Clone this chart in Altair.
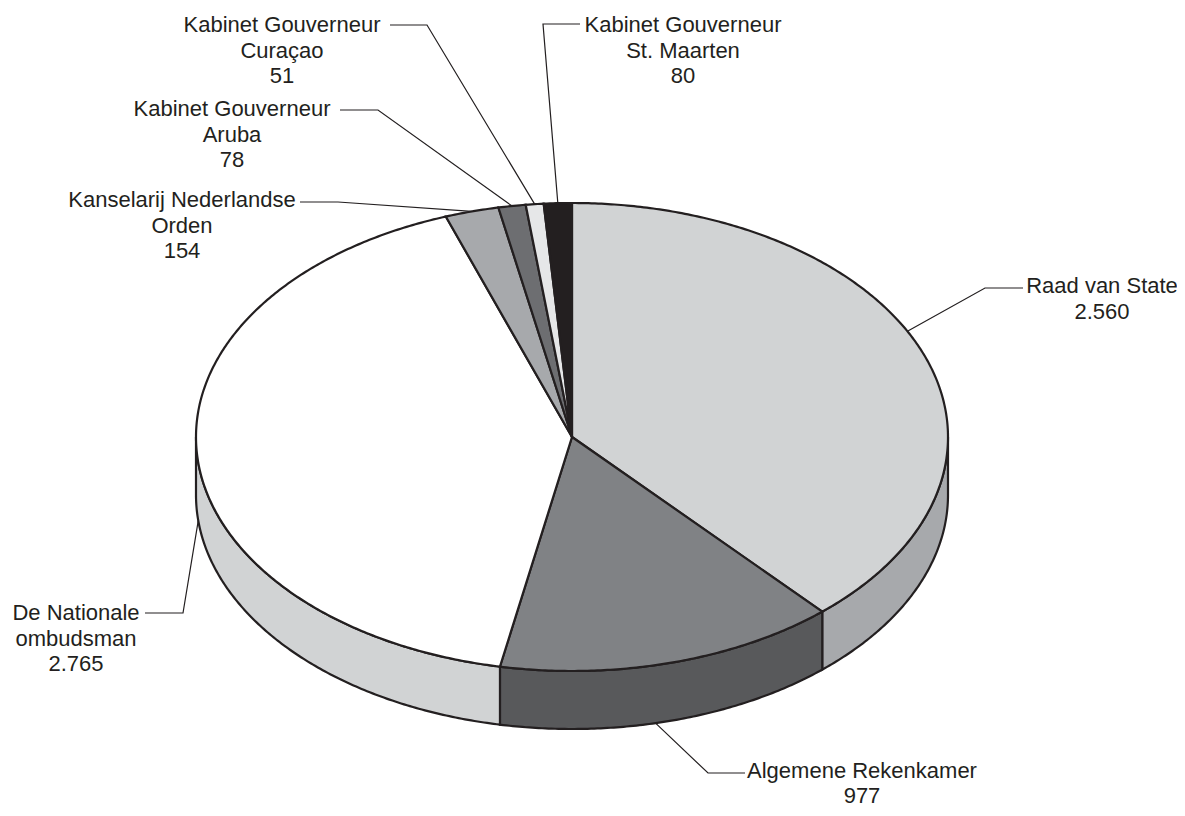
import math
import altair as alt
import pandas as pd

# ---------------- data ----------------
categories = [
    "Raad van State",
    "Algemene Rekenkamer",
    "De Nationale ombudsman",
    "Kanselarij Nederlandse Orden",
    "Kabinet Gouverneur Aruba",
    "Kabinet Gouverneur Curaçao",
    "Kabinet Gouverneur St. Maarten",
]
values = [2560, 977, 2765, 154, 78, 51, 80]
label_lines = [
    ["Raad van State", "2.560"],
    ["Algemene Rekenkamer", "977"],
    ["De Nationale", "ombudsman", "2.765"],
    ["Kanselarij Nederlandse", "Orden", "154"],
    ["Kabinet Gouverneur", "Aruba", "78"],
    ["Kabinet Gouverneur", "Curaçao", "51"],
    ["Kabinet Gouverneur", "St. Maarten", "80"],
]

# ---------------- styles / layout ----------------
top_colors = ["#d1d3d4", "#808285", "#ffffff", "#a7a9ac", "#6d6e71", "#e6e7e8", "#231f20"]
side_colors = ["#a7a9ac", "#58595b", "#d1d3d4", "#808285", "#4d4d4f", "#bcbec0", "#111111"]
INK = "#231f20"
CX, CY, RX, RY, DEPTH = 572.0, 437.0, 376.0, 234.0, 58.0
# text centre x, first baseline y, line gap, leader start x, elbow x, leader y, anchor shift (deg)
label_layout = [
    (1102, 293, 25.5, 1023, 985, 288, -6.0),
    (862, 778, 24.5, 745, 708, 773, 2.5),
    (76, 620, 25.5, 145, 183, 613, -2.0),
    (182, 207, 25.5, 300, 338, 202, 0.0),
    (232, 116, 25.5, 340, 378, 110, 0.0),
    (282, 32, 25.5, 390, 427, 25, 0.0),
    (683, 32, 25.5, 580, 543, 24, 0.0),
]
FONT = "Liberation Sans"
FONT_SIZE = 22


def rim(a, dy=0.0):
    return [CX + RX * math.sin(a), CY - RY * math.cos(a) + dy]


def arc_pts(a0, a1, dy=0.0):
    n = max(2, int(math.ceil(abs(a1 - a0) / math.radians(0.5))) + 1)
    return [rim(a0 + (a1 - a0) * i / (n - 1), dy) for i in range(n)]


total = float(sum(values))
starts, ends = [], []
acc = 0.0
for v in values:
    starts.append(acc / total * 2 * math.pi)
    acc += v
    ends.append(acc / total * 2 * math.pi)

side_feats, top_feats, leader_feats = [], [], []
for i, name in enumerate(categories):
    a0, a1 = starts[i], ends[i]
    lo, hi = max(a0, math.pi / 2), min(a1, 3 * math.pi / 2)
    if lo < hi:
        ring = arc_pts(lo, hi) + arc_pts(hi, lo, DEPTH)
        ring.append(ring[0])
        side_feats.append({"type": "Feature",
                           "properties": {"name": name, "fill": side_colors[i]},
                           "geometry": {"type": "Polygon", "coordinates": [ring]}})
    ring = [[CX, CY]] + arc_pts(a0, a1) + [[CX, CY]]
    top_feats.append({"type": "Feature",
                      "properties": {"name": name, "fill": top_colors[i]},
                      "geometry": {"type": "Polygon", "coordinates": [ring]}})
    tx, ty, gap, lx0, lx1, ly, shift = label_layout[i]
    mid = (a0 + a1) / 2 + math.radians(shift)
    front = math.pi / 2 < mid < 3 * math.pi / 2
    anchor = rim(mid, DEPTH if front else 0.0)
    leader_feats.append({"type": "Feature",
                         "properties": {"name": name},
                         "geometry": {"type": "LineString",
                                      "coordinates": [[lx0, ly], [lx1, ly], anchor]}})

rows = []
for i, lines in enumerate(label_lines):
    tx, ty, gap = label_layout[i][0], label_layout[i][1], label_layout[i][2]
    for k, t in enumerate(lines):
        rows.append({"lon": tx, "lat": ty + k * gap, "text": t})
text_df = pd.DataFrame(rows)

proj = dict(type="identity", scale=1, translate=[-8, -8])

sides = alt.Chart(alt.Data(values=side_feats)).mark_geoshape(
    stroke=INK, strokeWidth=2.2
).encode(fill=alt.Fill("properties.fill:N", scale=None)).project(**proj)

tops = alt.Chart(alt.Data(values=top_feats)).mark_geoshape(
    stroke=INK, strokeWidth=2.2
).encode(fill=alt.Fill("properties.fill:N", scale=None)).project(**proj)

leaders = alt.Chart(alt.Data(values=leader_feats)).mark_geoshape(
    filled=False, stroke=INK, strokeWidth=1.2
).encode(detail=alt.Detail("properties.name:N")).project(**proj)

texts = alt.Chart(text_df).mark_text(
    font=FONT, fontSize=FONT_SIZE, align="center", baseline="alphabetic", color=INK
).encode(longitude="lon:Q", latitude="lat:Q", text="text:N").project(**proj)

chart = alt.layer(leaders, sides, tops, texts).properties(
    width=1169, height=800, padding=0
).configure_view(stroke=None)

chart.save("out.html", embed_options={"renderer": "svg", "actions": False})
